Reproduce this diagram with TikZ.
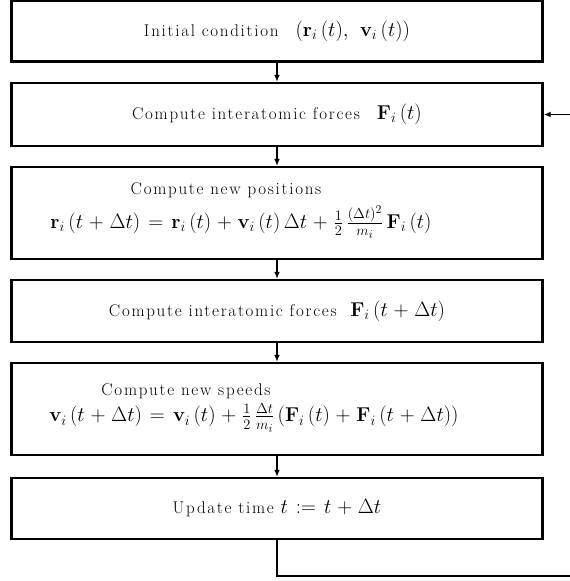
\documentclass[tikz,border=0pt]{standalone}
\usepackage{fontspec}
\usepackage{amsmath}
\setmainfont{Latin Modern Roman}[LetterSpace=10]
\usetikzlibrary{arrows.meta}

\DeclareMathSizes{20}{20}{15.5}{12}
\newcommand{\mth}[1]{{\fontsize{20}{23}\selectfont$\medmuskip=5mu\thickmuskip=7mu #1$}}

\tikzset{
  stepbox/.style={draw, line width=2.4pt, minimum width=531pt, inner sep=0pt},
  flow/.style={line width=1.6pt, -{Latex[length=7pt,width=6pt]}},
  txt/.style={font=\fontsize{17}{20}\selectfont, inner sep=0pt}
}

\begin{document}
\begin{tikzpicture}[x=1pt, y=-1pt]
    \useasboundingbox (0,0) rectangle (570,581);
    \node[stepbox, minimum height=61pt] (init) at (277,31) {};
    \node[stepbox, minimum height=63pt] (force) at (277,114.5) {};
    \node[stepbox, minimum height=92pt] (pos) at (277,213) {};
    \node[stepbox, minimum height=62pt] (newforce) at (277,311) {};
    \node[stepbox, minimum height=92pt] (speed) at (277,409) {};
    \node[stepbox, minimum height=61pt] (upd) at (277,508.5) {};

    \node[txt] (t1) at (277,31) {Initial condition\quad \mth{(\mathbf{r}_i\,(t),\ \mathbf{v}_i\,(t))}};
    \node[txt] (t2) at (277,114.5) {Compute interatomic forces\quad \mth{\mathbf{F}_i\,(t)}};
    \node[txt] (t3a) at (226,190) {Compute new positions};
    \node[txt] (t3b) at (241,222) {\mth{\mathbf{r}_i\,(t+\Delta t)=\mathbf{r}_i\,(t)+\mathbf{v}_i\,(t)\,\Delta t+\frac{1}{2}\,\frac{(\Delta t)^2}{m_i}\,\mathbf{F}_i\,(t)}};
    \node[txt] (t4) at (277,311) {Compute interatomic forces\ \ \mth{\mathbf{F}_i\,(t+\Delta t)}};
    \node[txt] (t5a) at (186,391) {Compute new speeds};
    \node[txt] (t5b) at (254,418) {\mth{\mathbf{v}_i\,(t+\Delta t)=\mathbf{v}_i\,(t)+\frac{1}{2}\,\frac{\Delta t}{m_i}\,(\mathbf{F}_i\,(t)+\mathbf{F}_i\,(t+\Delta t))}};
    \node[txt] (t6) at (277,508.5) {Update time \mth{t:=t+\Delta t}};

    \draw[flow] (init) -- (force);
    \draw[flow] (force) -- (pos);
    \draw[flow] (pos) -- (newforce);
    \draw[flow] (newforce) -- (speed);
    \draw[flow] (speed) -- (upd);
    \coordinate (turn) at (590,576);
    \draw[flow] (upd.south) |- (turn) |- (force.east);
\end{tikzpicture}
\end{document}
